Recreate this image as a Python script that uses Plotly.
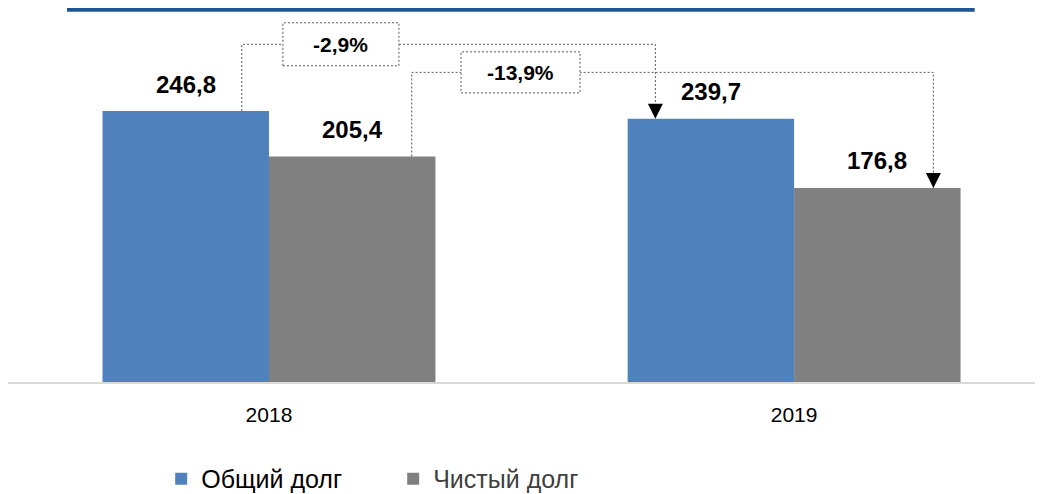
import plotly.graph_objects as go

years = ["2018", "2019"]
total_debt = [246.8, 239.7]
net_debt = [205.4, 176.8]
series_names = ["Общий долг", "Чистый долг"]

BLUE = "#4f81bd"
GRAY = "#808080"
LINE = "#595959"
FONT = "Liberation Sans, Arial, sans-serif"

xpos = list(range(len(years)))
half = 0.1585  # centre of each bar relative to its category, in category units

fig = go.Figure()
fig.add_trace(go.Bar(x=xpos, y=total_debt, name=series_names[0], marker_color=BLUE,
                     marker_line_width=0))
fig.add_trace(go.Bar(x=xpos, y=net_debt, name=f"<span style='color:#404040'>{series_names[1]}</span>",
                     marker_color=GRAY, marker_line_width=0))

# value labels above the bars
for vals, dx in [(total_debt, -half), (net_debt, half)]:
    for x, v in zip(xpos, vals):
        fig.add_annotation(x=x + dx, y=v, text=f"{v:.1f}".replace(".", ","), showarrow=False,
                           yshift=27, yanchor="middle",
                           font=dict(family=FONT, size=24, color="black", weight="bold"))

# change connectors: (values, bar offset, start offset, end offset, level, box x, box w, box h)
connectors = [
    (total_debt, -half, 0.1067, -0.1057, 307.6, 0.137, 116, 43),
    (net_debt, half, 0.1133, 0.1067, 282.0, 0.479, 119, 41),
]
shapes = []
for vals, dx, s_off, e_off, level, bx, bw, bh in connectors:
    x0 = xpos[0] + dx + s_off
    x1 = xpos[1] + dx + e_off
    path = f"M{x0},{vals[0]} L{x0},{level} L{x1},{level} L{x1},{vals[1]}"
    shapes.append(dict(type="path", path=path, xref="x", yref="y",
                       line=dict(color=LINE, width=1, dash="2px,2px"), layer="above"))
    pct = (vals[1] / vals[0] - 1) * 100
    shapes.append(dict(type="rect", xref="x", yref="y", xsizemode="pixel", ysizemode="pixel",
                       xanchor=bx, yanchor=level, x0=-bw / 2, x1=bw / 2, y0=-bh / 2, y1=bh / 2,
                       fillcolor="white", line=dict(color=LINE, width=1, dash="2px,2px"),
                       layer="above"))
    fig.add_annotation(x=bx, y=level, text=f"{pct:.1f}%".replace(".", ","), showarrow=False,
                       font=dict(family=FONT, size=21, color="black", weight="bold"))
    fig.add_annotation(x=x1, y=vals[1], ax=0, ay=-15, text="", showarrow=True,
                       arrowhead=2, arrowsize=3, arrowwidth=1, arrowcolor="black", standoff=0)

# header rule
shapes.append(dict(type="line", xref="paper", yref="paper", x0=0.057, x1=0.934,
                   y0=1.0298, y1=1.0298, line=dict(color="#1f5597", width=5)))

# page body has an 8px margin, so the figure is sized 8px smaller than the window
fig.update_layout(
    width=1035, height=486,
    margin=dict(l=0, r=0, t=12, b=112),
    plot_bgcolor="white", paper_bgcolor="white",
    barmode="group", bargap=0.366, bargroupgap=0,
    shapes=shapes,
    showlegend=True,
    legend=dict(orientation="h", x=0.148, xanchor="left", y=0.0309, yref="container",
                yanchor="middle", entrywidth=187, font=dict(family=FONT, size=25, color="black"),
                itemclick=False),
    xaxis=dict(range=[-0.497, 1.474], tickvals=xpos, ticktext=years, showgrid=False,
               zeroline=False, showline=True, linecolor="#d9d9d9", linewidth=2,
               ticks="", tickfont=dict(family=FONT, size=21, color="black"),
               ticklabelstandoff=13),
    yaxis=dict(range=[0, 329.7], visible=False, showgrid=False, zeroline=False),
)

fig.write_html("out.html")
